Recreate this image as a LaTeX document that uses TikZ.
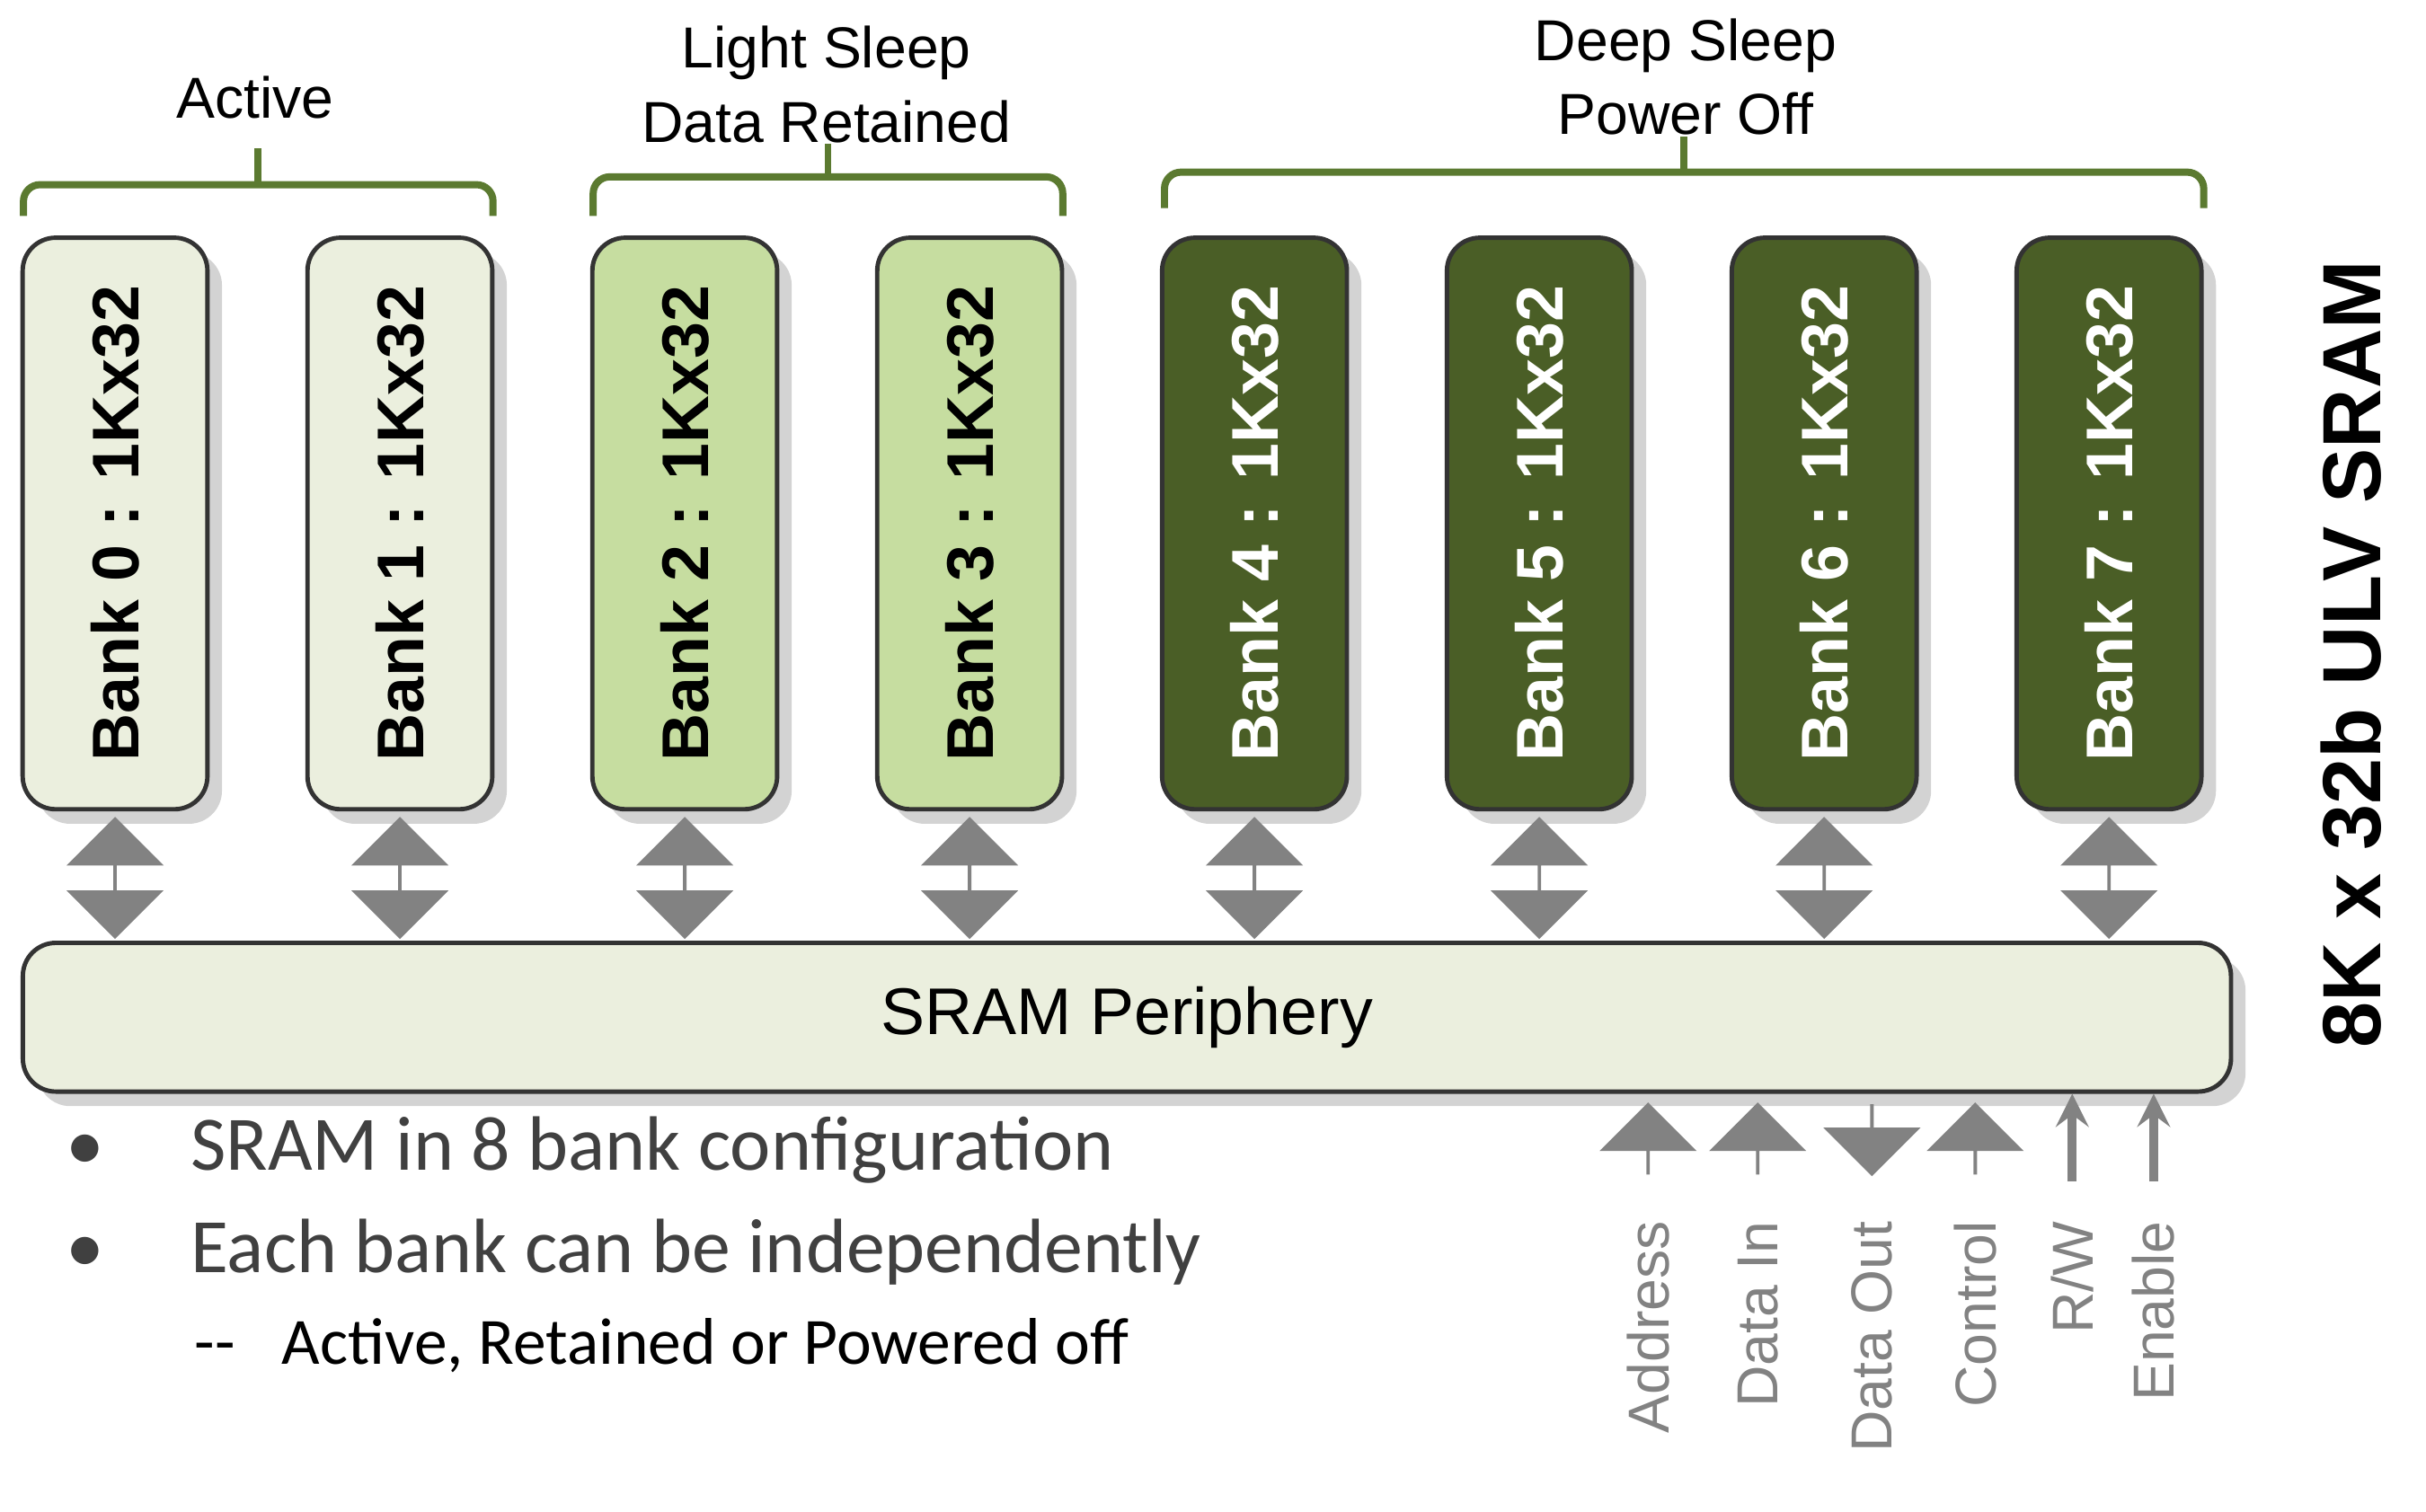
\documentclass[tikz,border=0pt]{standalone}
\usepackage{fontspec}
\setmainfont{Liberation Sans}
\newfontfamily\bulletfont{Carlito}
\usetikzlibrary{positioning,shapes.arrows,shadows}
\definecolor{bankpale}{HTML}{EBEFDE}
\definecolor{bankmid}{HTML}{C6DDA0}
\definecolor{bankdark}{HTML}{4A5E26}
\definecolor{braceclr}{HTML}{5B7A30}
\definecolor{arrowclr}{HTML}{828282}
\definecolor{textclr}{HTML}{404040}
\tikzset{%
  bank/.style     = {draw=black!80, thick, rounded corners=6pt, minimum width=1.18cm,
    minimum height=3.65cm, drop shadow={opacity=0.35}, font=\fontsize{12}{14}\selectfont\bfseries},
  pale/.style     = {bank, fill=bankpale},
  mid/.style      = {bank, fill=bankmid},
  dark/.style     = {bank, fill=bankdark, text=white},
  link/.style     = {double arrow, fill=arrowclr, minimum height=0.78cm, minimum width=0.62cm,
    double arrow head extend=0.19cm, inner sep=0pt, rotate=90}, % bank <-> periphery
  sig/.style      = {single arrow, fill=arrowclr, minimum height=0.46cm, minimum width=0.62cm,
    single arrow head extend=0.19cm, inner sep=0pt},
  siglabel/.style = {rotate=90, anchor=east, text=arrowclr, font=\fontsize{10.5}{12}\selectfont},
  brace/.style    = {draw=braceclr, line width=1.3pt, rounded corners=3pt}
}
\begin{document}
\begin{tikzpicture}[x=0.01cm, y=-0.01cm, >=stealth]
  \useasboundingbox (0,0) rectangle (1550,966);

  % banks
  \foreach \i/\st in {0/pale,1/pale,2/mid,3/mid,4/dark,5/dark,6/dark,7/dark}
    \draw node at ({73.5+182*\i},334.5) [\st] (b\i) {\rotatebox{90}{Bank \i\ : 1Kx32}};

  \draw node at (720,650) [draw=black!80, thick, fill=bankpale, rounded corners=6pt,
    minimum width=14.1cm, minimum height=0.95cm, drop shadow={opacity=0.35},
    font=\fontsize{12}{14}\selectfont] (peri) {SRAM Periphery};

  \foreach \i in {0,...,7}
    \node [link] (l\i) at ({73.5+182*\i},561) {};

  % state groups
  \draw[brace] (15,138) -- (15,118) -- (315,118) -- (315,138);
  \draw[brace] (165,118) -- (165,95);
  \draw[brace] (379,138) -- (379,113) -- (679,113) -- (679,138);
  \draw[brace] (529,113) -- (529,92);
  \draw[brace] (744,133) -- (744,110) -- (1408,110) -- (1408,133);
  \draw[brace] (1076,110) -- (1076,87);
  \node [font=\fontsize{10.5}{13}\selectfont] (act) at (163,62) {Active};
  \node [font=\fontsize{10.5}{13.5}\selectfont, align=center] (ls) at (528,54) {Light Sleep\\Data Retained};
  \node [font=\fontsize{10.5}{13.5}\selectfont, align=center] (ds) at (1077,49) {Deep Sleep\\Power Off};

  \node [rotate=90, font=\fontsize{15}{18}\selectfont\bfseries] (title) at (1502,418) {8K x 32b ULV SRAM};

  % interface signals
  \node [sig, rotate=90] (addr) at (1053,728) {};
  \node [sig, rotate=90] (din) at (1123,728) {};
  \node [sig, rotate=-90] (dout) at (1196,728) {};
  \node [sig, rotate=90] (ctrl) at (1262,728) {};
  \coordinate (rwfoot) at (1324,755);
  \coordinate (enfoot) at (1376,755);
  \draw[->, arrowclr, line width=1.6pt] (rwfoot) -- (rwfoot |- peri.south);
  \draw[->, arrowclr, line width=1.6pt] (enfoot) -- (enfoot |- peri.south);
  \node [siglabel] (laddr) at (1053,768) {Address};
  \node [siglabel] (ldin) at (1123,768) {Data In};
  \node [siglabel] (ldout) at (1196,768) {Data Out};
  \node [siglabel] (lctrl) at (1262,768) {Control};
  \node [siglabel] (lrw) at (1324,768) {R/W};
  \node [siglabel] (len) at (1376,768) {Enable};

  % notes
  \node [anchor=west, text=textclr, font=\bulletfont\fontsize{14}{17}\selectfont] (n1) at (30,735) {\textbullet\hspace{0.55cm}SRAM in 8 bank configuration};
  \node [anchor=west, text=textclr, font=\bulletfont\fontsize{14}{17}\selectfont] (n2) at (30,800) {\textbullet\hspace{0.55cm}Each bank can be independently};
  \node [anchor=west, text=black, font=\bulletfont\fontsize{12}{15}\selectfont] (n3) at (112,860) {--\hspace{0.3cm}Active, Retained or Powered off};
\end{tikzpicture}
\end{document}
